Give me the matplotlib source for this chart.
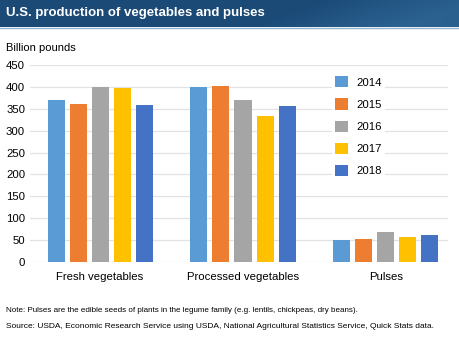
import matplotlib
matplotlib.use("Agg")
import matplotlib.pyplot as plt
import numpy as np
from matplotlib.colors import LinearSegmentedColormap

plt.rcParams['font.family'] = ['Liberation Sans', 'DejaVu Sans']

categories = ["Fresh vegetables", "Processed vegetables", "Pulses"]
years = ["2014", "2015", "2016", "2017", "2018"]
values = {
    "2014": [369, 400, 50],
    "2015": [361, 401, 53],
    "2016": [400, 371, 69],
    "2017": [397, 333, 57],
    "2018": [359, 357, 62],
}
colors = ["#5B9BD5", "#ED7D31", "#A5A5A5", "#FFC000", "#4472C4"]
yticks = [0, 50, 100, 150, 200, 250, 300, 350, 400, 450]

W, H = 460, 341
fig = plt.figure(figsize=(W / 100, H / 100), dpi=100)

# Title banner with gradient
bax = fig.add_axes([0, 1 - 27 / H, 1, 27 / H])
bax.axis("off")
gx = np.linspace(0, 1, 300)
gy = np.linspace(0, 1, 30)
X, Y = np.meshgrid(gx, gy)
Z = np.clip((X - 0.55 - 0.15 * Y) * 3, 0, 1) * (1 - np.clip((X - 0.8) * 3, 0, 1) * 0.3)
cmap = LinearSegmentedColormap.from_list("b", ["#1b4a77", "#2d6593"])
bax.imshow(Z, aspect="auto", cmap=cmap, extent=[0, 1, 0, 1], origin="lower", vmin=0, vmax=1)
bax.set_xlim(0, 1); bax.set_ylim(0, 1)
fig.add_artist(plt.Line2D([0, 1], [1 - 27.5 / H, 1 - 27.5 / H], color="#8fb3d0", lw=1))
fig.text(6 / W, 1 - 13 / H, "U.S. production of vegetables and pulses", color="white",
         fontsize=9.5, fontweight="bold", va="center", ha="left")

fig.text(6 / W, 1 - 48 / H, "Billion pounds", fontsize=8.0, va="center", ha="left")

ax = fig.add_axes([30 / W, 1 - 262 / H, (448 - 30) / W, (262 - 65) / H])
x = np.arange(len(categories))
width = 0.119
step = 0.154
for i, (yr, c) in enumerate(zip(years, colors)):
    ax.bar(x + (i - 2) * step, values[yr], width, color=c, label=yr, zorder=3)

ax.set_ylim(0, 450)
ax.set_xlim(-0.49, 2.434)
ax.set_yticks(yticks)
ax.set_xticks(x)
ax.set_xticklabels(categories)
ax.tick_params(axis="both", length=0, labelsize=8.2)
ax.tick_params(axis="y", pad=3.5)
ax.tick_params(axis="x", pad=7)
ax.yaxis.grid(True, color="#e2e2e2", lw=0.9, zorder=0)
for s in ax.spines.values():
    s.set_visible(False)

leg = ax.legend(loc="upper left", bbox_to_anchor=((326 - 30) / (448 - 30), (262 - 67) / (262 - 65)),
                frameon=True, fancybox=False, edgecolor="white", facecolor="white", framealpha=1,
                fontsize=8.2, handlelength=1.15, handleheight=1.15, labelspacing=0.94,
                handletextpad=0.7, borderpad=0.3)
leg.get_frame().set_linewidth(0)

fig.text(6 / W, 1 - 311 / H, "Note: Pulses are the edible seeds of plants in the legume family (e.g. lentils, chickpeas, dry beans).",
         fontsize=5.8, va="center", ha="left")
fig.text(6 / W, 1 - 327 / H, "Source: USDA, Economic Research Service using USDA, National Agricultural Statistics Service, Quick Stats data.",
         fontsize=6.05, va="center", ha="left")

fig.savefig("out.png", dpi=100)
